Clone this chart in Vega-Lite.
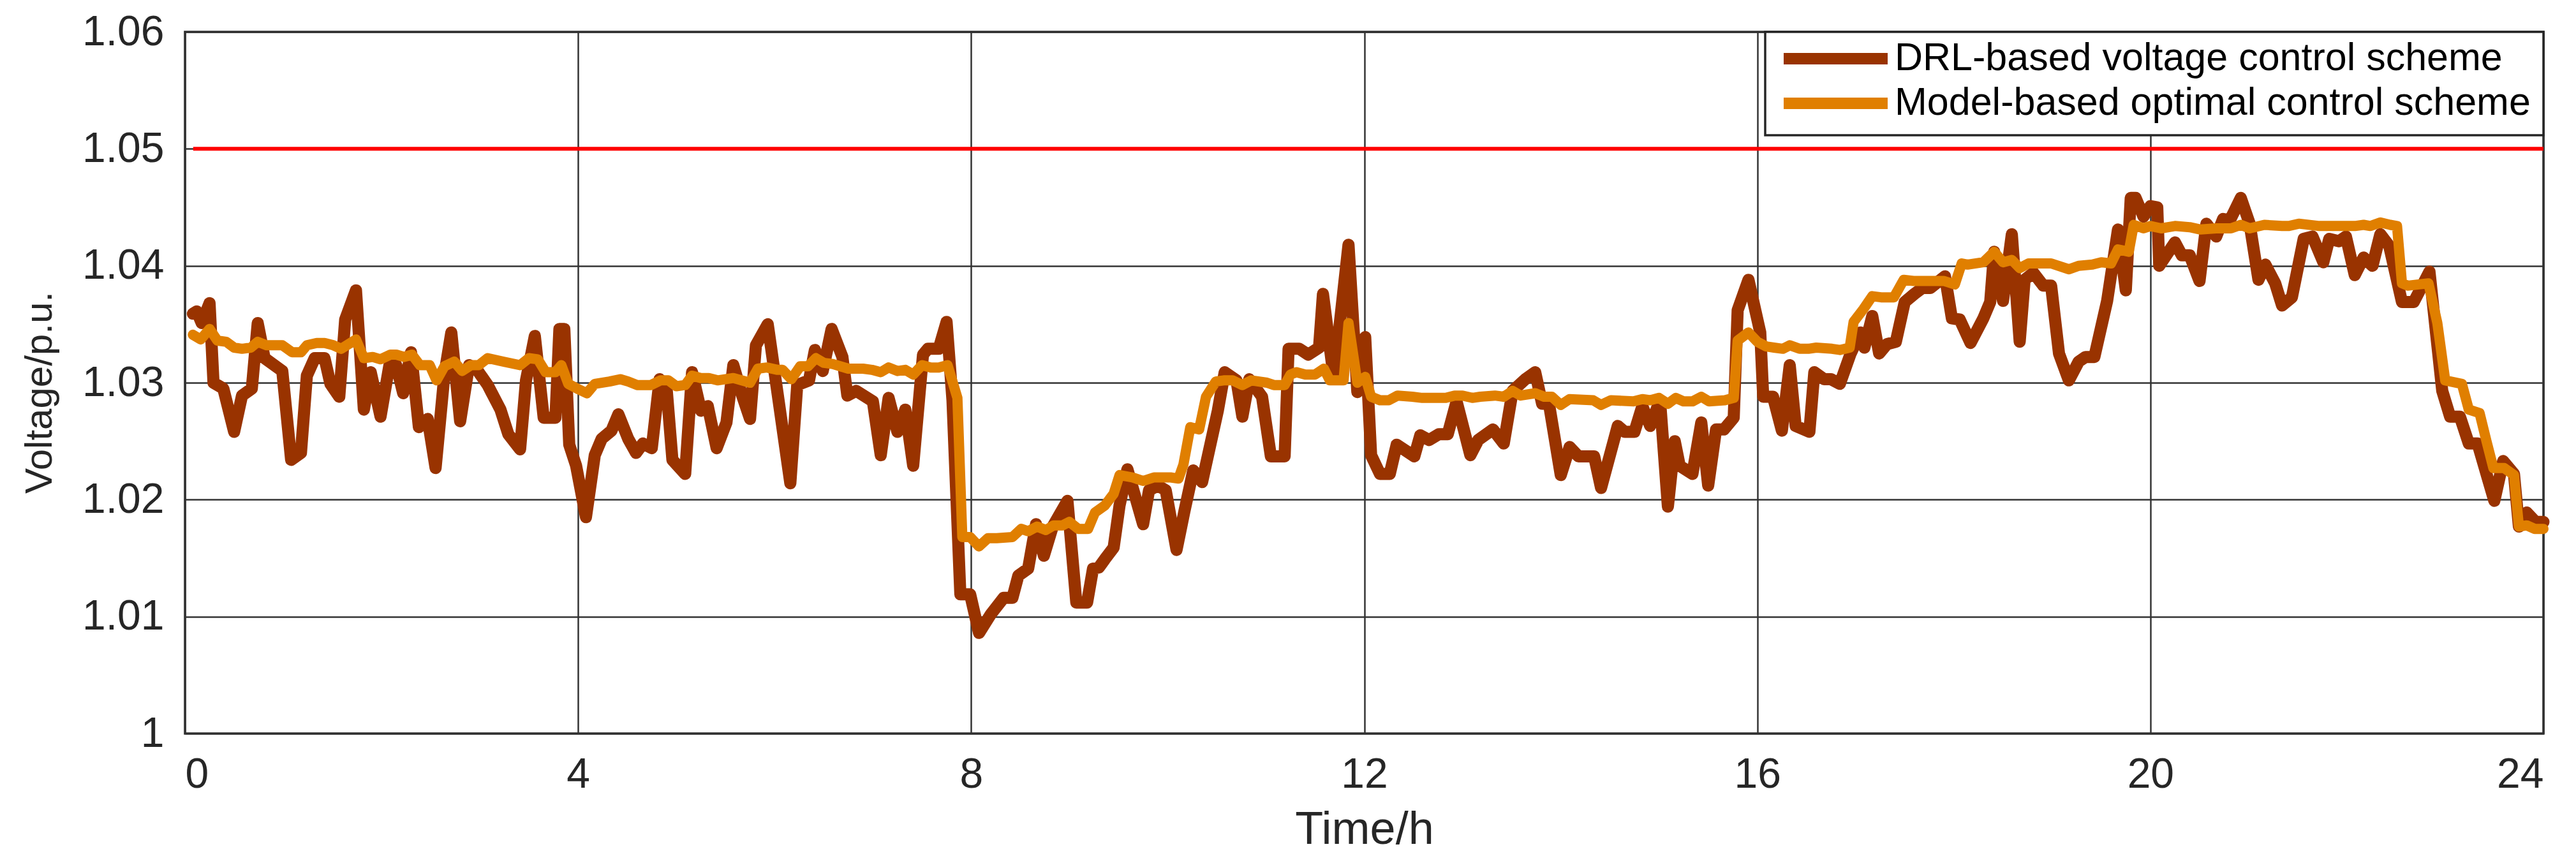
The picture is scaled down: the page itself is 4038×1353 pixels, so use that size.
{
  "$schema": "https://vega.github.io/schema/vega-lite/v6.json",
  "width": 3697,
  "height": 1100,
  "autosize": {"type": "none"},
  "padding": {"left": 290, "top": 50, "right": 51, "bottom": 203},
  "background": "white",
  "config": {
    "font": "Liberation Sans",
    "view": {"stroke": "#262626", "strokeWidth": 3.5},
    "legend": {"strokeColor": "#262626", "strokeWidth": 3.5, "fillColor": "white"}
  },
  "datasets": {
    "lim": [{"t": 0.083, "t2": 24, "v": 1.05}],
    "drl": [
      {"t":0.08,"v":1.0359},{"t":0.12,"v":1.0361},{"t":0.17,"v":1.0351},{"t":0.25,"v":1.0368},{"t":0.29,"v":1.0300},{"t":0.39,"v":1.0295},{"t":0.50,"v":1.0258},{"t":0.58,"v":1.0289},{"t":0.68,"v":1.0295},{"t":0.74,"v":1.0351},{"t":0.81,"v":1.0321},{"t":0.99,"v":1.0310},{"t":1.08,"v":1.0234},{"t":1.18,"v":1.0240},{"t":1.24,"v":1.0306},{"t":1.32,"v":1.0321},{"t":1.42,"v":1.0321},{"t":1.48,"v":1.0299},{"t":1.57,"v":1.0288},{"t":1.63,"v":1.0354},{"t":1.74,"v":1.0379},{"t":1.82,"v":1.0277},{"t":1.89,"v":1.0309},{"t":1.99,"v":1.0271},{"t":2.08,"v":1.0315},{"t":2.15,"v":1.0315},{"t":2.22,"v":1.0291},{"t":2.30,"v":1.0326},{"t":2.38,"v":1.0262},{"t":2.47,"v":1.0269},{"t":2.55,"v":1.0227},{"t":2.64,"v":1.0307},{"t":2.71,"v":1.0343},{"t":2.80,"v":1.0267},{"t":2.89,"v":1.0315},{"t":2.98,"v":1.0310},{"t":3.08,"v":1.0298},{"t":3.21,"v":1.0277},{"t":3.29,"v":1.0256},{"t":3.41,"v":1.0243},{"t":3.47,"v":1.0302},{"t":3.56,"v":1.0340},{"t":3.65,"v":1.0270},{"t":3.77,"v":1.0270},{"t":3.81,"v":1.0346},{"t":3.86,"v":1.0346},{"t":3.91,"v":1.0247},{"t":3.98,"v":1.0229},{"t":4.08,"v":1.0185},{"t":4.17,"v":1.0238},{"t":4.24,"v":1.0252},{"t":4.34,"v":1.0259},{"t":4.41,"v":1.0273},{"t":4.51,"v":1.0252},{"t":4.59,"v":1.0240},{"t":4.66,"v":1.0248},{"t":4.75,"v":1.0244},{"t":4.83,"v":1.0303},{"t":4.90,"v":1.0296},{"t":4.96,"v":1.0234},{"t":5.09,"v":1.0222},{"t":5.16,"v":1.0309},{"t":5.25,"v":1.0276},{"t":5.32,"v":1.0280},{"t":5.41,"v":1.0244},{"t":5.51,"v":1.0266},{"t":5.58,"v":1.0315},{"t":5.67,"v":1.0289},{"t":5.75,"v":1.0269},{"t":5.81,"v":1.0332},{"t":5.93,"v":1.0350},{"t":6.16,"v":1.0214},{"t":6.23,"v":1.0298},{"t":6.35,"v":1.0302},{"t":6.41,"v":1.0328},{"t":6.49,"v":1.0310},{"t":6.58,"v":1.0346},{"t":6.69,"v":1.0322},{"t":6.74,"v":1.0289},{"t":6.83,"v":1.0293},{"t":7.00,"v":1.0284},{"t":7.08,"v":1.0238},{"t":7.16,"v":1.0287},{"t":7.25,"v":1.0258},{"t":7.33,"v":1.0277},{"t":7.41,"v":1.0229},{"t":7.51,"v":1.0324},{"t":7.56,"v":1.0329},{"t":7.67,"v":1.0329},{"t":7.75,"v":1.0352},{"t":7.81,"v":1.0285},{"t":7.89,"v":1.0119},{"t":7.99,"v":1.0119},{"t":8.08,"v":1.0086},{"t":8.20,"v":1.0102},{"t":8.33,"v":1.0116},{"t":8.42,"v":1.0116},{"t":8.48,"v":1.0135},{"t":8.58,"v":1.0141},{"t":8.66,"v":1.0179},{"t":8.74,"v":1.0152},{"t":8.83,"v":1.0177},{"t":8.98,"v":1.0199},{"t":9.07,"v":1.0112},{"t":9.18,"v":1.0112},{"t":9.24,"v":1.0141},{"t":9.30,"v":1.0142},{"t":9.36,"v":1.0149},{"t":9.45,"v":1.0159},{"t":9.51,"v":1.0195},{"t":9.59,"v":1.0226},{"t":9.75,"v":1.0179},{"t":9.81,"v":1.0208},{"t":9.90,"v":1.0212},{"t":9.98,"v":1.0208},{"t":10.09,"v":1.0157},{"t":10.17,"v":1.0190},{"t":10.26,"v":1.0225},{"t":10.35,"v":1.0215},{"t":10.51,"v":1.0276},{"t":10.58,"v":1.0309},{"t":10.70,"v":1.0302},{"t":10.76,"v":1.0271},{"t":10.83,"v":1.0303},{"t":10.96,"v":1.0288},{"t":11.05,"v":1.0237},{"t":11.19,"v":1.0237},{"t":11.23,"v":1.0329},{"t":11.34,"v":1.0329},{"t":11.43,"v":1.0324},{"t":11.54,"v":1.0330},{"t":11.58,"v":1.0376},{"t":11.69,"v":1.0304},{"t":11.84,"v":1.0418},{"t":11.93,"v":1.0292},{"t":12.01,"v":1.0339},{"t":12.07,"v":1.0238},{"t":12.16,"v":1.0222},{"t":12.26,"v":1.0222},{"t":12.33,"v":1.0247},{"t":12.51,"v":1.0237},{"t":12.57,"v":1.0255},{"t":12.66,"v":1.0251},{"t":12.76,"v":1.0256},{"t":12.85,"v":1.0256},{"t":12.94,"v":1.0284},{"t":13.08,"v":1.0238},{"t":13.16,"v":1.0251},{"t":13.31,"v":1.0260},{"t":13.42,"v":1.0248},{"t":13.51,"v":1.0293},{"t":13.64,"v":1.0303},{"t":13.74,"v":1.0309},{"t":13.81,"v":1.0282},{"t":13.88,"v":1.0282},{"t":14.00,"v":1.0221},{"t":14.09,"v":1.0245},{"t":14.18,"v":1.0237},{"t":14.34,"v":1.0237},{"t":14.41,"v":1.0210},{"t":14.58,"v":1.0263},{"t":14.65,"v":1.0258},{"t":14.75,"v":1.0258},{"t":14.83,"v":1.0280},{"t":14.91,"v":1.0263},{"t":15.01,"v":1.0285},{"t":15.09,"v":1.0194},{"t":15.16,"v":1.0250},{"t":15.21,"v":1.0229},{"t":15.34,"v":1.0222},{"t":15.43,"v":1.0266},{"t":15.50,"v":1.0212},{"t":15.58,"v":1.0260},{"t":15.66,"v":1.0260},{"t":15.76,"v":1.0270},{"t":15.80,"v":1.0362},{"t":15.91,"v":1.0388},{"t":16.03,"v":1.0343},{"t":16.06,"v":1.0288},{"t":16.16,"v":1.0288},{"t":16.25,"v":1.0259},{"t":16.33,"v":1.0315},{"t":16.39,"v":1.0263},{"t":16.53,"v":1.0258},{"t":16.58,"v":1.0309},{"t":16.68,"v":1.0303},{"t":16.75,"v":1.0303},{"t":16.84,"v":1.0299},{"t":16.95,"v":1.0325},{"t":17.05,"v":1.0343},{"t":17.09,"v":1.0330},{"t":17.17,"v":1.0357},{"t":17.24,"v":1.0325},{"t":17.32,"v":1.0333},{"t":17.41,"v":1.0335},{"t":17.50,"v":1.0369},{"t":17.60,"v":1.0376},{"t":17.68,"v":1.0381},{"t":17.76,"v":1.0381},{"t":17.91,"v":1.0391},{"t":17.98,"v":1.0355},{"t":18.06,"v":1.0354},{"t":18.17,"v":1.0334},{"t":18.30,"v":1.0355},{"t":18.37,"v":1.0369},{"t":18.41,"v":1.0412},{"t":18.50,"v":1.0370},{"t":18.59,"v":1.0427},{"t":18.67,"v":1.0335},{"t":18.72,"v":1.0388},{"t":18.81,"v":1.0394},{"t":18.91,"v":1.0383},{"t":18.99,"v":1.0383},{"t":19.07,"v":1.0325},{"t":19.17,"v":1.0302},{"t":19.27,"v":1.0318},{"t":19.34,"v":1.0322},{"t":19.43,"v":1.0322},{"t":19.56,"v":1.0370},{"t":19.67,"v":1.0431},{"t":19.75,"v":1.0379},{"t":19.80,"v":1.0458},{"t":19.85,"v":1.0458},{"t":19.93,"v":1.0442},{"t":20.00,"v":1.0451},{"t":20.07,"v":1.0450},{"t":20.09,"v":1.0400},{"t":20.25,"v":1.0420},{"t":20.32,"v":1.0409},{"t":20.40,"v":1.0409},{"t":20.50,"v":1.0387},{"t":20.57,"v":1.0436},{"t":20.67,"v":1.0425},{"t":20.74,"v":1.0440},{"t":20.81,"v":1.0439},{"t":20.92,"v":1.0458},{"t":21.01,"v":1.0436},{"t":21.10,"v":1.0388},{"t":21.17,"v":1.0401},{"t":21.27,"v":1.0385},{"t":21.34,"v":1.0366},{"t":21.44,"v":1.0373},{"t":21.56,"v":1.0423},{"t":21.65,"v":1.0425},{"t":21.76,"v":1.0403},{"t":21.82,"v":1.0423},{"t":21.92,"v":1.0421},{"t":21.99,"v":1.0425},{"t":22.08,"v":1.0392},{"t":22.17,"v":1.0407},{"t":22.26,"v":1.0400},{"t":22.34,"v":1.0427},{"t":22.43,"v":1.0417},{"t":22.56,"v":1.0369},{"t":22.68,"v":1.0369},{"t":22.84,"v":1.0395},{"t":22.97,"v":1.0293},{"t":23.05,"v":1.0271},{"t":23.15,"v":1.0271},{"t":23.24,"v":1.0248},{"t":23.33,"v":1.0248},{"t":23.50,"v":1.0199},{"t":23.59,"v":1.0233},{"t":23.70,"v":1.0222},{"t":23.75,"v":1.0177},{"t":23.83,"v":1.0189},{"t":23.92,"v":1.0181},{"t":24.00,"v":1.0181}
    ],
    "mb": [
      {"t":0.08,"v":1.0341},{"t":0.16,"v":1.0337},{"t":0.25,"v":1.0346},{"t":0.33,"v":1.0336},{"t":0.42,"v":1.0335},{"t":0.50,"v":1.0330},{"t":0.58,"v":1.0329},{"t":0.67,"v":1.0330},{"t":0.74,"v":1.0335},{"t":0.83,"v":1.0332},{"t":0.99,"v":1.0332},{"t":1.09,"v":1.0326},{"t":1.18,"v":1.0326},{"t":1.24,"v":1.0332},{"t":1.34,"v":1.0334},{"t":1.42,"v":1.0334},{"t":1.51,"v":1.0332},{"t":1.59,"v":1.0329},{"t":1.74,"v":1.0337},{"t":1.82,"v":1.0321},{"t":1.91,"v":1.0322},{"t":1.99,"v":1.0320},{"t":2.09,"v":1.0324},{"t":2.15,"v":1.0324},{"t":2.23,"v":1.0322},{"t":2.31,"v":1.0324},{"t":2.39,"v":1.0315},{"t":2.49,"v":1.0315},{"t":2.56,"v":1.0302},{"t":2.64,"v":1.0314},{"t":2.74,"v":1.0318},{"t":2.82,"v":1.0310},{"t":2.91,"v":1.0315},{"t":2.99,"v":1.0315},{"t":3.08,"v":1.0321},{"t":3.24,"v":1.0318},{"t":3.41,"v":1.0315},{"t":3.50,"v":1.0321},{"t":3.59,"v":1.0320},{"t":3.67,"v":1.0309},{"t":3.77,"v":1.0309},{"t":3.83,"v":1.0315},{"t":3.90,"v":1.0299},{"t":3.99,"v":1.0295},{"t":4.09,"v":1.0291},{"t":4.17,"v":1.0299},{"t":4.32,"v":1.0301},{"t":4.43,"v":1.0303},{"t":4.51,"v":1.0301},{"t":4.60,"v":1.0298},{"t":4.74,"v":1.0298},{"t":4.84,"v":1.0302},{"t":4.92,"v":1.0302},{"t":5.00,"v":1.0297},{"t":5.09,"v":1.0298},{"t":5.16,"v":1.0306},{"t":5.25,"v":1.0304},{"t":5.33,"v":1.0304},{"t":5.42,"v":1.0302},{"t":5.58,"v":1.0304},{"t":5.75,"v":1.0300},{"t":5.83,"v":1.0312},{"t":5.92,"v":1.0313},{"t":6.03,"v":1.0311},{"t":6.08,"v":1.0311},{"t":6.17,"v":1.0303},{"t":6.26,"v":1.0314},{"t":6.34,"v":1.0314},{"t":6.42,"v":1.0321},{"t":6.50,"v":1.0317},{"t":6.59,"v":1.0316},{"t":6.75,"v":1.0312},{"t":6.90,"v":1.0312},{"t":6.99,"v":1.0311},{"t":7.08,"v":1.0309},{"t":7.16,"v":1.0313},{"t":7.25,"v":1.0310},{"t":7.33,"v":1.0311},{"t":7.41,"v":1.0307},{"t":7.50,"v":1.0315},{"t":7.59,"v":1.0313},{"t":7.67,"v":1.0313},{"t":7.76,"v":1.0315},{"t":7.86,"v":1.0287},{"t":7.91,"v":1.0168},{"t":7.99,"v":1.0168},{"t":8.08,"v":1.0160},{"t":8.17,"v":1.0167},{"t":8.26,"v":1.0167},{"t":8.42,"v":1.0168},{"t":8.51,"v":1.0175},{"t":8.58,"v":1.0173},{"t":8.67,"v":1.0177},{"t":8.76,"v":1.0174},{"t":8.84,"v":1.0178},{"t":8.93,"v":1.0178},{"t":9.00,"v":1.0181},{"t":9.09,"v":1.0175},{"t":9.19,"v":1.0175},{"t":9.26,"v":1.0189},{"t":9.36,"v":1.0195},{"t":9.45,"v":1.0205},{"t":9.51,"v":1.0221},{"t":9.64,"v":1.0219},{"t":9.75,"v":1.0216},{"t":9.86,"v":1.0219},{"t":10.03,"v":1.0219},{"t":10.11,"v":1.0218},{"t":10.16,"v":1.0230},{"t":10.23,"v":1.0262},{"t":10.32,"v":1.0260},{"t":10.39,"v":1.0288},{"t":10.49,"v":1.0301},{"t":10.57,"v":1.0302},{"t":10.66,"v":1.0302},{"t":10.76,"v":1.0298},{"t":10.85,"v":1.0302},{"t":11.01,"v":1.0300},{"t":11.08,"v":1.0298},{"t":11.19,"v":1.0298},{"t":11.25,"v":1.0307},{"t":11.31,"v":1.0309},{"t":11.40,"v":1.0307},{"t":11.50,"v":1.0307},{"t":11.59,"v":1.0312},{"t":11.65,"v":1.0302},{"t":11.79,"v":1.0302},{"t":11.84,"v":1.0351},{"t":11.93,"v":1.0300},{"t":12.01,"v":1.0305},{"t":12.07,"v":1.0288},{"t":12.16,"v":1.0285},{"t":12.25,"v":1.0285},{"t":12.34,"v":1.0289},{"t":12.49,"v":1.0288},{"t":12.59,"v":1.0287},{"t":12.83,"v":1.0287},{"t":12.92,"v":1.0289},{"t":13.00,"v":1.0289},{"t":13.10,"v":1.0287},{"t":13.18,"v":1.0288},{"t":13.33,"v":1.0289},{"t":13.42,"v":1.0288},{"t":13.51,"v":1.0293},{"t":13.59,"v":1.0289},{"t":13.74,"v":1.0291},{"t":13.83,"v":1.0288},{"t":13.91,"v":1.0288},{"t":14.00,"v":1.0281},{"t":14.09,"v":1.0286},{"t":14.33,"v":1.0285},{"t":14.41,"v":1.0281},{"t":14.51,"v":1.0285},{"t":14.74,"v":1.0284},{"t":14.83,"v":1.0286},{"t":14.91,"v":1.0285},{"t":15.00,"v":1.0287},{"t":15.09,"v":1.0282},{"t":15.17,"v":1.0287},{"t":15.25,"v":1.0284},{"t":15.34,"v":1.0284},{"t":15.43,"v":1.0288},{"t":15.51,"v":1.0284},{"t":15.67,"v":1.0285},{"t":15.76,"v":1.0287},{"t":15.80,"v":1.0336},{"t":15.91,"v":1.0343},{"t":16.00,"v":1.0335},{"t":16.09,"v":1.0331},{"t":16.17,"v":1.0330},{"t":16.26,"v":1.0329},{"t":16.33,"v":1.0332},{"t":16.43,"v":1.0329},{"t":16.52,"v":1.0329},{"t":16.60,"v":1.0330},{"t":16.76,"v":1.0329},{"t":16.84,"v":1.0328},{"t":16.94,"v":1.0330},{"t":16.98,"v":1.0352},{"t":17.08,"v":1.0363},{"t":17.17,"v":1.0374},{"t":17.26,"v":1.0373},{"t":17.39,"v":1.0373},{"t":17.49,"v":1.0388},{"t":17.59,"v":1.0387},{"t":17.78,"v":1.0387},{"t":17.90,"v":1.0387},{"t":18.01,"v":1.0384},{"t":18.08,"v":1.0402},{"t":18.14,"v":1.0401},{"t":18.30,"v":1.0403},{"t":18.41,"v":1.0412},{"t":18.50,"v":1.0403},{"t":18.59,"v":1.0405},{"t":18.67,"v":1.0398},{"t":18.76,"v":1.0402},{"t":18.99,"v":1.0402},{"t":19.17,"v":1.0397},{"t":19.27,"v":1.0400},{"t":19.41,"v":1.0401},{"t":19.50,"v":1.0403},{"t":19.60,"v":1.0402},{"t":19.67,"v":1.0414},{"t":19.78,"v":1.0412},{"t":19.83,"v":1.0435},{"t":19.93,"v":1.0432},{"t":20.00,"v":1.0434},{"t":20.11,"v":1.0432},{"t":20.25,"v":1.0434},{"t":20.40,"v":1.0433},{"t":20.51,"v":1.0431},{"t":20.67,"v":1.0432},{"t":20.82,"v":1.0432},{"t":20.92,"v":1.0435},{"t":21.01,"v":1.0432},{"t":21.16,"v":1.0435},{"t":21.34,"v":1.0434},{"t":21.41,"v":1.0434},{"t":21.51,"v":1.0436},{"t":21.72,"v":1.0434},{"t":21.85,"v":1.0434},{"t":22.08,"v":1.0434},{"t":22.17,"v":1.0435},{"t":22.24,"v":1.0434},{"t":22.34,"v":1.0437},{"t":22.44,"v":1.0435},{"t":22.51,"v":1.0434},{"t":22.56,"v":1.0385},{"t":22.62,"v":1.0383},{"t":22.83,"v":1.0385},{"t":22.92,"v":1.0351},{"t":23.00,"v":1.0302},{"t":23.17,"v":1.0299},{"t":23.24,"v":1.0277},{"t":23.35,"v":1.0274},{"t":23.42,"v":1.0250},{"t":23.49,"v":1.0227},{"t":23.60,"v":1.0227},{"t":23.70,"v":1.0221},{"t":23.75,"v":1.0177},{"t":23.83,"v":1.0178},{"t":23.91,"v":1.0175},{"t":24.00,"v":1.0175}
    ]
  },
  "layer": [
    {
      "data": {"name": "lim"},
      "mark": {"type": "rule", "color": "#FF0000", "strokeWidth": 6},
      "encoding": {
        "x": {
          "field": "t", "type": "quantitative",
          "scale": {"domain": [0, 24], "nice": false, "zero": false},
          "axis": {
            "values": [0, 4, 8, 12, 16, 20, 24], "format": "d",
            "grid": true, "gridColor": "#333333", "gridWidth": 2.5,
            "domain": false, "ticks": false,
            "labelFont": "Liberation Sans", "labelFontSize": 66, "labelColor": "#262626", "labelPadding": 32,
            "title": "Time/h", "titleFont": "Liberation Sans", "titleFontSize": 72, "titleFontWeight": "normal", "titleColor": "#262626",
            "titleBaseline": "alphabetic", "titleY": 172
          }
        },
        "x2": {"field": "t2"},
        "y": {
          "field": "v", "type": "quantitative",
          "scale": {"domain": [1, 1.06], "nice": false, "zero": false},
          "axis": {
            "values": [1, 1.01, 1.02, 1.03, 1.04, 1.05, 1.06], "format": ".2~f",
            "grid": true, "gridColor": "#333333", "gridWidth": 2.5,
            "domain": false, "ticks": false,
            "labelFont": "Liberation Sans", "labelFontSize": 66, "labelColor": "#262626", "labelPadding": 33,
            "title": "Voltage/p.u.", "titleFont": "Liberation Sans", "titleFontSize": 60, "titleFontWeight": "normal", "titleColor": "#262626",
            "titleAngle": -90, "titleBaseline": "alphabetic", "titleX": -210, "titleY": 565
          }
        }
      }
    },
    {
      "data": {"name": "drl"},
      "mark": {"type": "line", "strokeWidth": 19, "strokeJoin": "round", "strokeCap": "round"},
      "encoding": {
        "x": {"field": "t", "type": "quantitative"},
        "y": {"field": "v", "type": "quantitative"},
        "color": {
          "datum": "DRL-based voltage control scheme", "type": "nominal",
          "scale": {"domain": ["DRL-based voltage control scheme", "Model-based optimal control scheme"], "range": ["#993300", "#E07F00"]},
          "legend": {
            "title": null, "orient": "top-right", "offset": 0, "padding": 20,
            "symbolType": "stroke", "symbolSize": 26569, "symbolStrokeWidth": 18,
            "clipHeight": 44, "rowPadding": 9, "labelOffset": 2,
            "labelFont": "Liberation Sans", "labelFontSize": 61, "labelColor": "#000000", "labelLimit": 3000
          }
        }
      }
    },
    {
      "data": {"name": "mb"},
      "mark": {"type": "line", "strokeWidth": 16, "strokeJoin": "round", "strokeCap": "round"},
      "encoding": {
        "x": {"field": "t", "type": "quantitative"},
        "y": {"field": "v", "type": "quantitative"},
        "color": {"datum": "Model-based optimal control scheme", "type": "nominal"}
      }
    }
  ]
}
